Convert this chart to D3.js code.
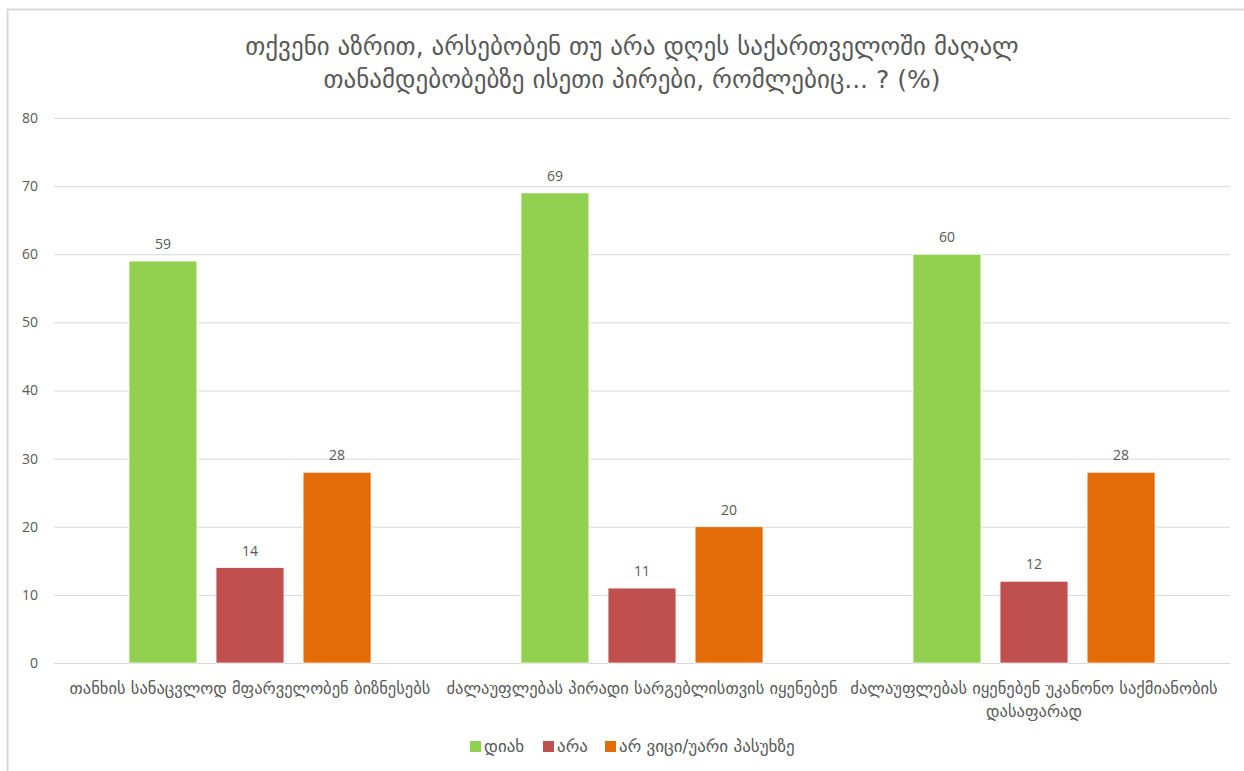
<!DOCTYPE html>
<html lang="ka">
<head>
    <meta charset="utf-8">
    <script src="https://d3js.org/d3.v7.min.js"></script>
    <style>
        body { margin: 0; background: #fff; }
        text { font-family: "DejaVu Sans", sans-serif; fill: #595959; }
    </style>
</head>
<body>
    <div id="chart"></div>
    <script>
        var titleLines = [
            "თქვენი აზრით, არსებობენ თუ არა დღეს საქართველოში მაღალ",
            "თანამდებობებზე ისეთი პირები, რომლებიც... ? (%)"
        ];
        var categories = [
            "თანხის სანაცვლოდ მფარველობენ ბიზნესებს",
            "ძალაუფლებას პირადი სარგებლისთვის იყენებენ",
            "ძალაუფლებას იყენებენ უკანონო საქმიანობის\nდასაფარად"
        ];
        var seriesNames = ["დიახ", "არა", "არ ვიცი/უარი პასუხზე"];
        var yes = [59, 69, 60];
        var no = [14, 11, 12];
        var dontKnow = [28, 20, 28];
        var yTicks = [0, 10, 20, 30, 40, 50, 60, 70, 80];
        var colors = ["#92d050", "#c0504d", "#e36c09"];

        var width = 1244, height = 771;
        var plotLeft = 54, plotRight = 1230, plotTop = 118, plotBottom = 663;

        var series = [yes, no, dontKnow];

        var svg = d3.select("#chart").append("svg")
            .attr("width", width)
            .attr("height", height);

        // outer frame (only top and left edges visible)
        svg.append("line").attr("x1", 7).attr("x2", width).attr("y1", 9.5).attr("y2", 9.5)
            .attr("stroke", "#d9d9d9").attr("stroke-width", 2);
        svg.append("line").attr("x1", 7.5).attr("x2", 7.5).attr("y1", 9).attr("y2", height)
            .attr("stroke", "#d9d9d9").attr("stroke-width", 2);

        /* Scales */
        var x0 = d3.scaleBand()
            .domain(d3.range(categories.length))
            .range([plotLeft, plotRight]);

        var x1 = d3.scaleBand()
            .domain(d3.range(series.length))
            .range([75, x0.bandwidth() - 75])
            .paddingInner(0.22);

        var y = d3.scaleLinear()
            .domain([0, 80])
            .range([plotBottom, plotTop]);

        /* Gridlines + y axis */
        var yAxis = d3.axisLeft(y).tickValues(yTicks).tickSize(-(plotRight - plotLeft)).tickPadding(16);
        var gy = svg.append("g")
            .attr("transform", `translate(${plotLeft},0)`)
            .call(yAxis);
        gy.select(".domain").remove();
        gy.selectAll(".tick line").attr("stroke", "#d9d9d9").attr("stroke-width", 1);
        gy.selectAll(".tick text").style("font-size", "14px").style("font-family", "'Open Sans', sans-serif").attr("fill", "#595959");

        /* Bars */
        var groups = svg.append("g").selectAll("g")
            .data(categories)
            .enter().append("g")
            .attr("transform", (d, i) => `translate(${x0(i)},0)`);

        groups.selectAll("rect")
            .data((d, i) => series.map((s, j) => ({ s: j, v: s[i] })))
            .enter().append("rect")
            .attr("x", d => x1(d.s))
            .attr("y", d => y(d.v))
            .attr("width", x1.bandwidth())
            .attr("height", d => y(0) - y(d.v))
            .attr("fill", d => colors[d.s])
            .attr("stroke", "#fff")
            .attr("stroke-width", 0.7);

        groups.selectAll(".lbl")
            .data((d, i) => series.map((s, j) => ({ s: j, v: s[i] })))
            .enter().append("text")
            .attr("class", "lbl")
            .attr("x", d => x1(d.s) + x1.bandwidth() / 2)
            .attr("y", d => y(d.v) - 12)
            .attr("text-anchor", "middle")
            .style("font-size", "14px")
            .style("font-family", "'Open Sans', sans-serif")
            .text(d => d.v);

        /* X labels */
        var xl = svg.append("g").selectAll("text")
            .data(categories)
            .enter().append("text")
            .attr("x", (d, i) => x0(i) + x0.bandwidth() / 2)
            .attr("y", 694)
            .attr("text-anchor", "middle")
            .style("font-size", "16.5px");
        xl.selectAll("tspan")
            .data(d => d.split("\n"))
            .enter().append("tspan")
            .attr("x", function() { return d3.select(this.parentNode).attr("x"); })
            .attr("dy", (d, i) => i ? 23 : 0)
            .text(d => d);

        /* Title */
        svg.append("g").selectAll("text")
            .data(titleLines)
            .enter().append("text")
            .attr("x", 632)
            .attr("y", (d, i) => 55 + i * 33)
            .attr("text-anchor", "middle")
            .style("font-size", "25px")
            .text(d => d);

        /* Legend */
        var legendX = [470, 543, 605];
        var lg = svg.append("g").selectAll("g")
            .data(seriesNames)
            .enter().append("g")
            .attr("transform", (d, i) => `translate(${legendX[i]},741)`);
        lg.append("rect").attr("width", 11).attr("height", 11).attr("fill", (d, i) => colors[i]);
        lg.append("text").attr("x", 14).attr("y", 11).style("font-size", "17px").text(d => d);
    </script>
</body>
</html>
